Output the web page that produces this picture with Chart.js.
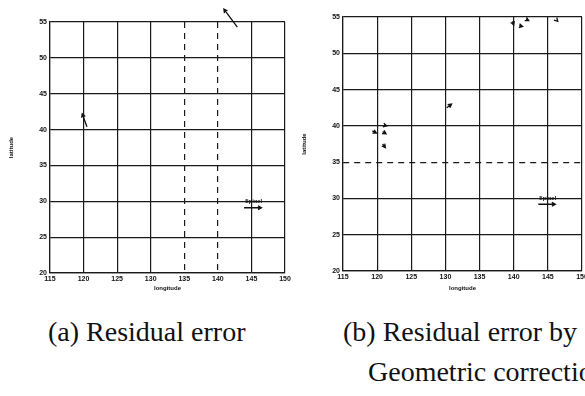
<!DOCTYPE html>
<html lang="en">
<head>
<meta charset="UTF-8" />
<title>Residual error</title>
<script src="https://cdn.jsdelivr.net/npm/chart.js@4.4.1/dist/chart.umd.min.js"></script>
<style>
  html, body { margin: 0; padding: 0; background: #fff; width: 585px; height: 396px; overflow: hidden; }
  .panel { position: absolute; top: 0; }
  .cap { position: absolute; font-family: "Liberation Serif", "Times New Roman", serif; font-size: 28px; line-height: 30px; color: #111; white-space: nowrap; }
</style>
</head>
<body>
  <canvas id="chartA" class="panel" width="300" height="292" style="left:0"></canvas>
  <canvas id="chartB" class="panel" width="310" height="292" style="left:293px"></canvas>
  <div class="cap" style="left:48px; top:317px">(a) Residual error</div>
  <div class="cap" style="left:343px; top:317px">(b) Residual error by</div>
  <div class="cap" style="left:368px; top:357px">Geometric correction</div>

<script>
// axes
const lonTicks = [115, 120, 125, 130, 135, 140, 145, 150];
const latTicks = [20, 25, 30, 35, 40, 45, 50, 55];

// (a) residual error vectors
const aLonStart = [120.5, 142.9];
const aLatStart = [40.4, 54.3];
const aLonEnd = [119.8, 140.9];
const aLatEnd = [42.2, 56.8];
const aDashLon = [135, 140];
const aDashLat = [];

// (b) residual error after geometric correction
const bLonStart = [119.3, 121.0, 120.8, 120.8, 130.2, 139.8, 140.8, 141.8, 146.35];
const bLatStart = [39.3, 40.1, 39.2, 37.5, 42.5, 54.4, 53.8, 54.7, 54.5];
const bLonEnd = [119.9, 121.4, 121.3, 121.2, 130.9, 140.0, 141.3, 142.2, 146.45];
const bLatEnd = [39.0, 40.0, 38.9, 37.0, 43.0, 53.9, 53.7, 54.5, 54.4];
const bDashLon = [];
const bDashLat = [35];

// 5 pixel scale arrow
const aScaleLon = [143.9, 146.5];
const aScaleLat = [29.1, 29.1];
const bScaleLon = [143.6, 146.1];
const bScaleLat = [29.2, 29.2];
const scaleText = '5pixel';

const arrowPlugin = {
  id: 'arrows',
  afterDatasetsDraw(chart, args, opts) {
    const { ctx, scales: { x, y } } = chart;
    ctx.save();
    ctx.strokeStyle = '#111';
    ctx.fillStyle = '#111';
    ctx.lineWidth = 1.3;
    const arrow = (x0, y0, x1, y1, head) => {
      const a = Math.atan2(y1 - y0, x1 - x0);
      ctx.beginPath();
      ctx.moveTo(x0, y0);
      ctx.lineTo(x1, y1);
      ctx.moveTo(x1 - head * Math.cos(a - 0.5), y1 - head * Math.sin(a - 0.5));
      ctx.lineTo(x1, y1);
      ctx.lineTo(x1 - head * Math.cos(a + 0.5), y1 - head * Math.sin(a + 0.5));
      ctx.stroke();
    };
    opts.lonStart.forEach((lon, i) => {
      arrow(x.getPixelForValue(lon), y.getPixelForValue(opts.latStart[i]),
            x.getPixelForValue(opts.lonEnd[i]), y.getPixelForValue(opts.latEnd[i]), 4);
    });
    const sx0 = x.getPixelForValue(opts.scaleLon[0]);
    const sx1 = x.getPixelForValue(opts.scaleLon[1]);
    const sy = y.getPixelForValue(opts.scaleLat[0]);
    arrow(sx0, sy, sx1, sy, 4);
    ctx.font = 'bold 6px "Liberation Sans", Arial, sans-serif';
    ctx.textAlign = 'center';
    ctx.textBaseline = 'bottom';
    ctx.fillText(scaleText, (sx0 + sx1) / 2 + 1, sy - 3);
    ctx.restore();
  }
};

function makeChart(id, o) {
  return new Chart(document.getElementById(id), {
    type: 'scatter',
    data: { datasets: [{ data: [], showLine: false }] },
    plugins: [arrowPlugin],
    options: {
      responsive: false,
      devicePixelRatio: 1,
      animation: false,
      layout: { padding: { left: 0, right: o.padRight, top: o.padTop, bottom: 0 } },
      plugins: {
        legend: { display: false },
        tooltip: { enabled: false },
        arrows: o.arrows
      },
      scales: {
        x: {
          type: 'linear', min: 115, max: 150,
          afterBuildTicks: (s) => { s.ticks = lonTicks.map(v => ({ value: v })); },
          afterFit: (s) => { s.height = o.xHeight; },
          ticks: { color: '#111', padding: 2, font: { size: 7, weight: 'bold', family: '"Liberation Sans", Arial, sans-serif' } },
          grid: { color: '#1a1a1a', lineWidth: 1.2, drawTicks: false },
          border: { color: '#1a1a1a', width: 1.2,
            dash: (c) => (c.tick && o.dashLon.includes(c.tick.value)) ? [6, 5] : [] },
          title: { display: true, text: o.xTitle, color: '#111', padding: { top: 3, bottom: 0 },
            font: { size: 6, weight: 'bold', family: '"Liberation Sans", Arial, sans-serif' } }
        },
        y: {
          type: 'linear', min: 20, max: 55,
          afterBuildTicks: (s) => { s.ticks = latTicks.map(v => ({ value: v })); },
          afterFit: (s) => { s.width = 50; },
          ticks: { color: '#111', padding: 3, font: { size: 7, weight: 'bold', family: '"Liberation Sans", Arial, sans-serif' } },
          grid: { color: '#1a1a1a', lineWidth: 1.2, drawTicks: false },
          border: { color: '#1a1a1a', width: 1.2,
            dash: (c) => (c.tick && o.dashLat.includes(c.tick.value)) ? [6, 5] : [] },
          title: { display: true, text: 'latitude', color: '#111', padding: { top: 8, bottom: 0 },
            font: { size: 6, weight: 'bold', family: '"Liberation Sans", Arial, sans-serif' } }
        }
      }
    }
  });
}

makeChart('chartA', {
  padRight: 15, padTop: 22, xHeight: 19, xTitle: 'longitude',
  dashLon: aDashLon, dashLat: aDashLat,
  arrows: { lonStart: aLonStart, latStart: aLatStart, lonEnd: aLonEnd, latEnd: aLatEnd, scaleLon: aScaleLon, scaleLat: aScaleLat }
});
makeChart('chartB', {
  padRight: 21, padTop: 17, xHeight: 21, xTitle: 'longitude',
  dashLon: bDashLon, dashLat: bDashLat,
  arrows: { lonStart: bLonStart, latStart: bLatStart, lonEnd: bLonEnd, latEnd: bLatEnd, scaleLon: bScaleLon, scaleLat: bScaleLat }
});
</script>
</body>
</html>
